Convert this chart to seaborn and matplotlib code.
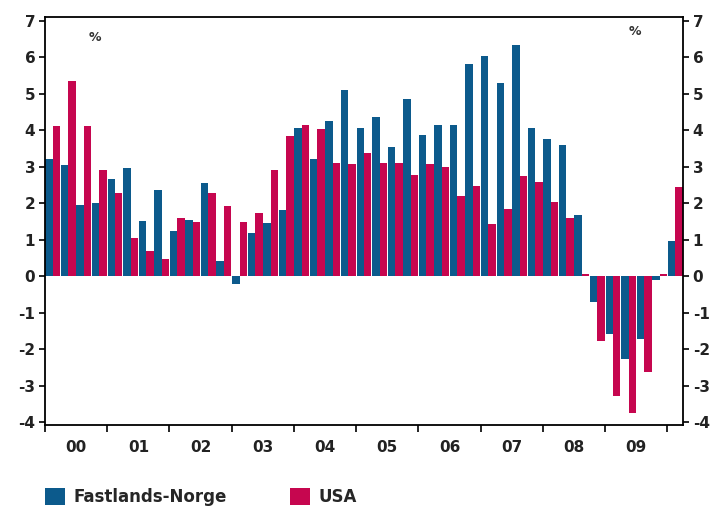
import numpy as np
import pandas as pd
import seaborn as sns
import matplotlib
matplotlib.use("Agg")
import matplotlib.pyplot as plt
from matplotlib.patches import Patch

# ---- data (quarterly growth, %) ----
quarters = [f"{y}K{q}" for y in range(2000, 2011) for q in range(1, 5)][:41]
year_labels = ["00", "01", "02", "03", "04", "05", "06", "07", "08", "09"]
fastlands_norge = [3.2, 3.05, 1.95, 2.0, 2.65, 2.95, 1.52, 2.37, 1.24, 1.53,
                   2.56, 0.42, -0.23, 1.17, 1.45, 1.8, 4.07, 3.22, 4.24, 5.09,
                   4.07, 4.37, 3.53, 4.86, 3.88, 4.13, 4.13, 5.8, 6.02, 5.3,
                   6.34, 4.07, 3.77, 3.58, 1.67, -0.72, -1.6, -2.28, -1.73, -0.1,
                   0.96]
usa = [4.12, 5.35, 4.12, 2.9, 2.28, 1.05, 0.68, 0.47, 1.6, 1.49,
       2.27, 1.91, 1.49, 1.74, 2.92, 3.83, 4.13, 4.02, 3.1, 3.06,
       3.36, 3.1, 3.1, 2.76, 3.06, 3.0, 2.2, 2.47, 1.42, 1.85,
       2.74, 2.57, 2.04, 1.6, 0.05, -1.78, -3.28, -3.75, -2.62, 0.05,
       2.45]
series_names = ["Fastlands-Norge", "USA"]
colors = ["#0C5A8C", "#C6064F"]

df = pd.DataFrame({
    "quarter": quarters * 2,
    "value": fastlands_norge + usa,
    "series": [series_names[0]] * len(quarters) + [series_names[1]] * len(quarters),
})

sns.set_theme(style="white")
plt.rcParams["font.family"] = ["DejaVu Sans"]

fig = plt.figure(figsize=(7.13, 5.12), dpi=100)
ax = fig.add_axes([45 / 713, 1 - 425 / 512, (683 - 45) / 713, (425 - 17) / 512])

sns.barplot(data=df, x="quarter", y="value", hue="series", order=quarters,
            hue_order=series_names, palette=colors, width=0.96, dodge=True,
            saturation=1, errorbar=None, legend=False, ax=ax, linewidth=0)

ax.set_xlim(-0.5, len(quarters) - 0.5)
ax.set_ylim(-4.08, 7.1)
ax.set_xlabel("")
ax.set_ylabel("")

# x ticks at year boundaries, labels centered in years
ax.set_xticks([-0.5 + 4 * i for i in range(11)])
ax.set_xticklabels([""] * 11)
ax.set_xticks([1.5 + 4 * i for i in range(10)], minor=True)
ax.set_xticklabels(year_labels, minor=True)
ax.tick_params(axis="x", which="minor", length=0, pad=11, labelsize=11)
ax.tick_params(axis="x", which="major", direction="out", length=5, width=1.2,
               bottom=True, color="black")

yt = list(range(-4, 8))
ax.set_yticks(yt)
ax.set_yticklabels([str(v) for v in yt])
ax.tick_params(axis="y", direction="out", length=4, width=1.2, left=True,
               labelsize=11, pad=3, color="black")

for lab in ax.get_xticklabels(minor=True) + ax.get_yticklabels():
    lab.set_fontweight("bold")
    lab.set_color("#222222")

for s in ax.spines.values():
    s.set_visible(True)
    s.set_color("black")
    s.set_linewidth(1.3)

ax2 = ax.twinx()
ax2.set_ylim(ax.get_ylim())
ax2.set_yticks(yt)
ax2.set_yticklabels([str(v) for v in yt])
ax2.tick_params(axis="y", direction="out", length=4, width=1.2, right=True,
                labelsize=11, pad=3, color="black")
for lab in ax2.get_yticklabels():
    lab.set_fontweight("bold")
    lab.set_color("#222222")
for s in ax2.spines.values():
    s.set_visible(False)

ax.text(0.078, 0.95, "%", transform=ax.transAxes, fontsize=9, fontweight="bold",
        ha="center", va="center", color="#333333")
ax.text(0.925, 0.965, "%", transform=ax.transAxes, fontsize=9, fontweight="bold",
        ha="center", va="center", color="#333333")

handles = [Patch(facecolor=c, edgecolor="none") for c in colors]
fig.legend(handles, series_names, loc="center left", bbox_to_anchor=(0.042, 0.03),
           ncol=2, frameon=False, handlelength=1.2, handleheight=1.2,
           columnspacing=3.8, handletextpad=0.5,
           prop={"size": 12, "weight": "bold"})

fig.savefig("out.png", dpi=100)
